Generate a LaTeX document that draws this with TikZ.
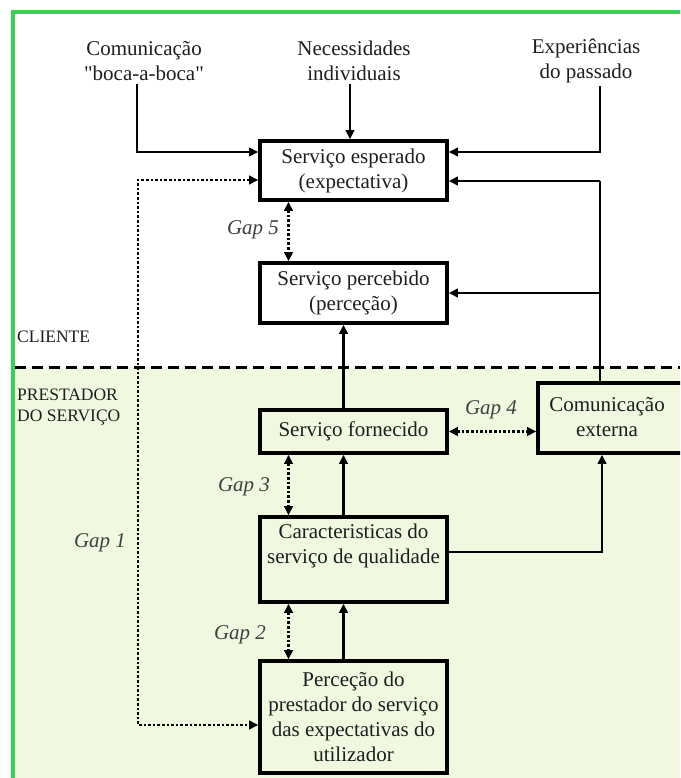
\documentclass[tikz,border=0pt]{standalone}
\usepackage{fontspec}
\setmainfont{Liberation Serif}
\newfontfamily\straightq{Liberation Serif}
\usetikzlibrary{arrows.meta}

\definecolor{framegreen}{HTML}{3CCF55}
\definecolor{zone}{HTML}{F1F8E0}
\definecolor{ink}{HTML}{1E1E1E}

\newcommand\mainsize{\fontsize{21}{25}\selectfont}
\newcommand\sidesize{\fontsize{17.5}{21}\selectfont}

\tikzset{
  box/.style={draw=black, line width=3.6pt, inner sep=0pt, minimum width=187pt,
              align=center, font=\mainsize, text=ink},
  lbl/.style={inner sep=0pt, align=center, font=\mainsize, text=ink},
  gaplbl/.style={inner sep=0pt, font=\mainsize\itshape, text=ink!85},
  side/.style={inner sep=0pt, align=left, font=\sidesize, text=ink, anchor=west},
  link/.style={line width=2.3pt, -{Triangle[length=9pt,width=8.5pt]}},
  plain/.style={line width=2.3pt},
  gap/.style={line width=2.8pt, dash pattern=on 2.6pt off 2pt,
              {Triangle[length=9pt,width=8.5pt]}-{Triangle[length=9pt,width=8.5pt]}},
}

\begin{document}
\begin{tikzpicture}[x=1pt, y=-1pt]
  \useasboundingbox (0,0) rectangle (680,778);
  \clip (0,0) rectangle (680,778);

  % backgrounds: customer side white, provider side tinted
  \fill[white] (0,0) rectangle (680,778);
  \fill[zone] (15,367) rectangle (680,778);
  \draw[framegreen, line width=4pt] (13,780) -- (13,12) -- (684,12);
  \draw[line width=3pt, dash pattern=on 11pt off 6pt] (15,367) -- (680,367);

  % side captions
  \node[side] (cli) at (17,337) {CLIENTE};
  \node[side] (prest) at (17,407.5) {PRESTADOR\\DO SERVIÇO};

  % inputs at the top
  \node[lbl] (com) at (144,61) {Comunicação\\{\straightq"boca-a-boca"}};
  \node[lbl] (nec) at (354,61) {Necessidades\\individuais};
  \node[lbl] (exp) at (586,61) {Experiências\\do passado};

  % boxes
  \node[box, fill=white, minimum height=59pt] (esp) at (353.5,170.5) {Serviço esperado\\(expectativa)};
  \node[box, fill=white, minimum height=60pt] (perc) at (353.5,293) {Serviço percebido\\(perceção)};
  \node[box, fill=zone, minimum height=43pt] (forn) at (353.5,431.5) {Serviço fornecido};
  \node[box, fill=zone, minimum width=152pt, minimum height=70pt] (ext) at (614,418) {};
  \node[lbl] (extlbl) at (607,417.5) {Comunicação\\externa};
  \node[box, fill=zone, minimum height=85pt] (car) at (353.5,559.5) {Caracteristicas do\\serviço de qualidade\\[6pt]};
  \node[box, fill=zone, minimum height=112pt] (pre) at (353.5,717) {Perceção do\\prestador do serviço\\das expectativas do\\utilizador};

  % gap labels
  \node[gaplbl] (g5) at (253,230) {Gap 5};
  \node[gaplbl] (g4) at (491,410) {Gap 4};
  \node[gaplbl] (g3) at (244,487) {Gap 3};
  \node[gaplbl] (g2) at (240,635) {Gap 2};
  \node[gaplbl] (g1) at (100,543) {Gap 1};

  % helper coordinates
  \coordinate (gx) at (288.5,0);
  \coordinate (sx) at (343.5,0);
  \coordinate (r1) at (600,181);
  \coordinate (r2) at (600,293);
  \coordinate (b1) at (138,725);

  % inputs into expected service
  \draw[link] ([xshift=-7pt,yshift=-3pt]com.south) |- ([yshift=18.5pt]esp.west);
  \draw[link] ([xshift=-4pt,yshift=-3pt]nec.south) -- ([xshift=-4pt]nec.south |- esp.north);
  \draw[link] ([xshift=14pt,yshift=-3pt]exp.south) |- ([yshift=18.5pt]esp.east);

  % external communication feeding the customer side
  \draw[plain] ([xshift=-14pt]ext.north) -- (r1);
  \draw[link] (r1) -- ([yshift=-10.5pt]esp.east);
  \draw[link] (r2) -- (perc.east);

  % provider chain
  \draw[link] (forn.north -| sx) -- (perc.south -| sx);
  \draw[link] (car.north -| sx) -- (forn.south -| sx);
  \draw[link] (pre.north -| sx) -- (car.south -| sx);
  \draw[link] ([yshift=7.5pt]car.east) -| ([xshift=-12pt]ext.south);

  % gaps
  \draw[gap] (esp.south -| gx) -- (perc.north -| gx);
  \draw[gap] (forn.south -| gx) -- (car.north -| gx);
  \draw[gap] (car.south -| gx) -- (pre.north -| gx);
  \draw[gap] (forn.east) -- (forn.east -| ext.west);
  \draw[gap] ([yshift=-9.5pt]esp.west) -| (b1) -- ([yshift=-8pt]pre.west);
\end{tikzpicture}
\end{document}
